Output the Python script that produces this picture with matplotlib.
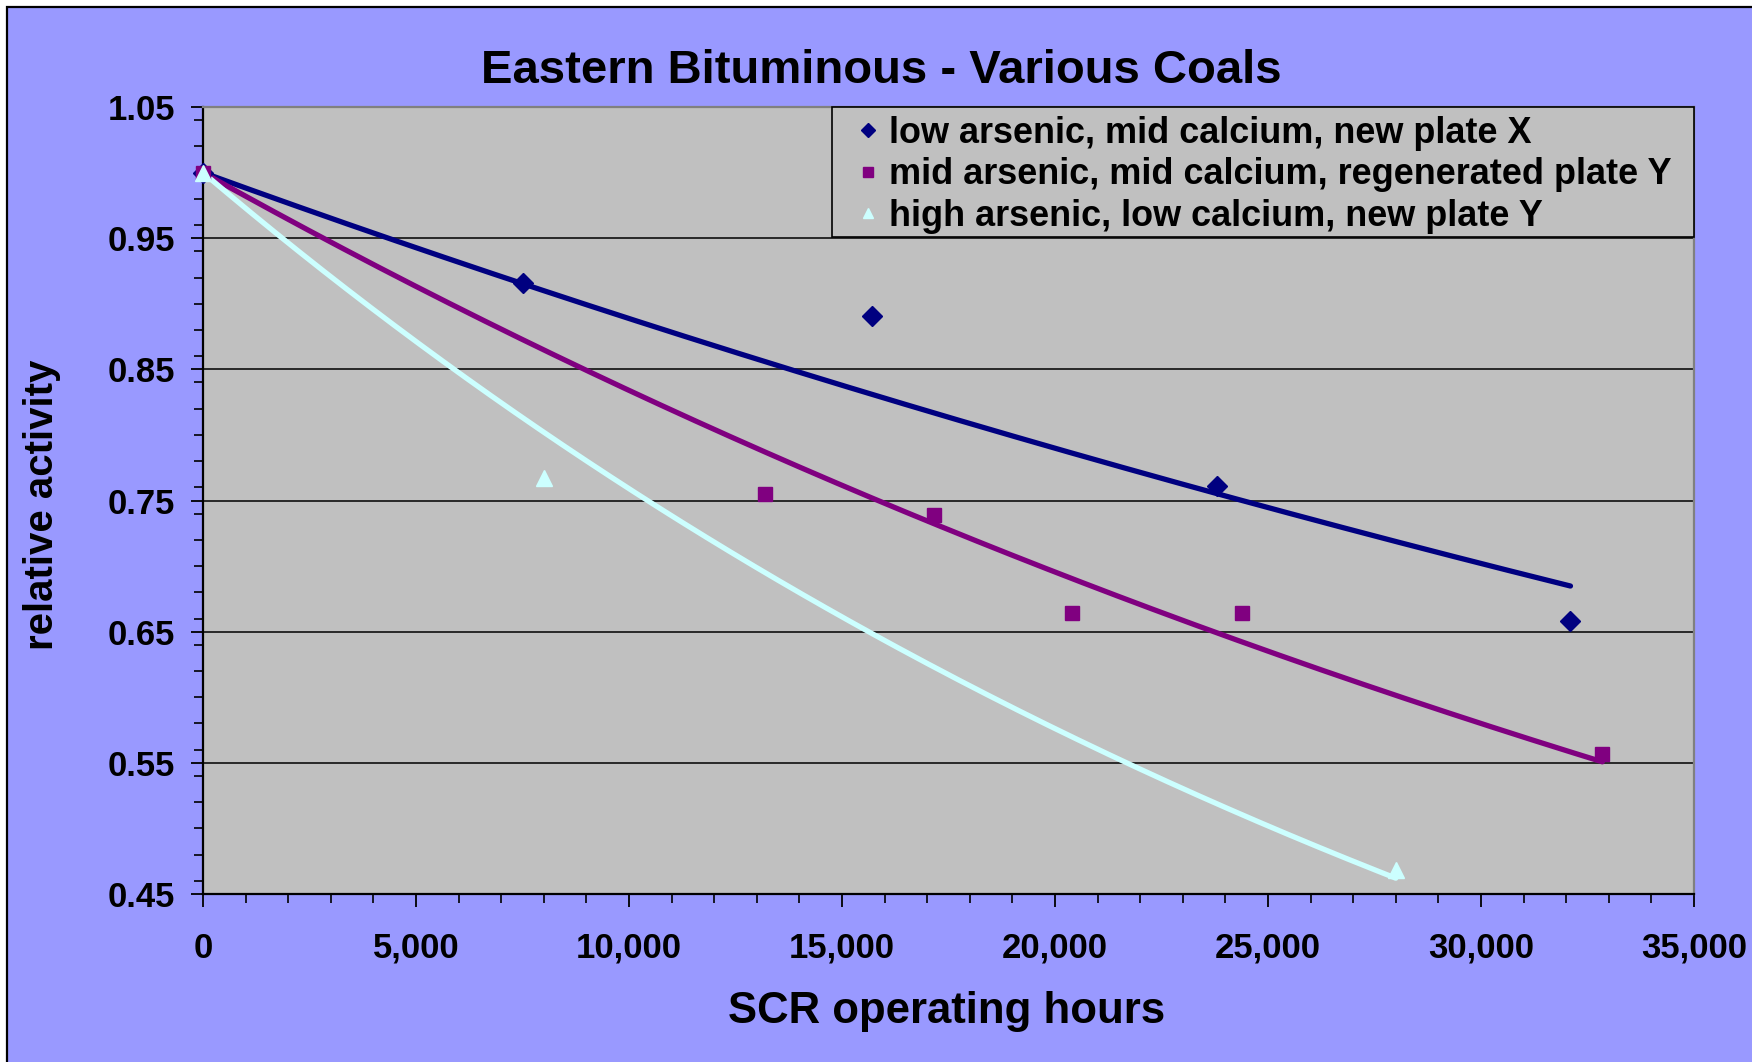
import numpy as np
import matplotlib
matplotlib.use("Agg")
import matplotlib.pyplot as plt
from matplotlib.patches import Rectangle
from matplotlib.ticker import MultipleLocator, FuncFormatter
from matplotlib.transforms import Affine2D

plt.rcParams['font.family'] = ['Liberation Sans', 'DejaVu Sans']
plt.rcParams['font.weight'] = 'bold'

# Catalyst activity measurements (SCR operating hours, relative activity)
labels = [
    "low arsenic, mid calcium, new plate X",
    "mid arsenic, mid calcium, regenerated plate Y",
    "high arsenic, low calcium, new plate Y",
]
hours_x = [0, 7500, 15700, 23800, 32100]
activity_x = [1.0, 0.916, 0.891, 0.761, 0.658]

hours_regen = [0, 13200, 17150, 20400, 24400, 32850]
activity_regen = [1.0, 0.755, 0.739, 0.664, 0.664, 0.557]

hours_y = [0, 8000, 28000]
activity_y = [1.0, 0.767, 0.468]

colors = ["#000080", "#800080", "#CCFFFF"]
markers = ["D", "s", "^"]
msizes = [10.5, 9.5, 11]

BG_BLUE = "#9999FF"
PLOT_GRAY = "#C0C0C0"

W, H = 1752, 1062
fig = plt.figure(figsize=(W / 100, H / 100), dpi=100)
fig.patch.set_facecolor("white")

# pixel coordinates measured from the top-left corner of the canvas
top_px = Affine2D().scale(1, -1).translate(0, H)

fig.patches.append(Rectangle((7 / W, -0.01), 1.02, 1 - 7 / H + 0.01,
                             transform=fig.transFigure, facecolor=BG_BLUE,
                             edgecolor="black", linewidth=1.6, zorder=-10))

ax = fig.add_axes([203 / W, 1 - 894 / H, (1694 - 203) / W, (894 - 107) / H])
ax.set_facecolor(PLOT_GRAY)


def exp_trend(x, y):
    """Exponential trendline y = exp(b*x), intercept fixed at 1."""
    x = np.asarray(x, float)
    ly = np.log(np.asarray(y, float))
    b = np.sum(x * ly) / np.sum(x * x)
    xs = np.linspace(0, x.max(), 200)
    return xs, np.exp(b * xs)


series = [(hours_x, activity_x), (hours_regen, activity_regen), (hours_y, activity_y)]
for (xv, yv), c, m, ms, lab in zip(series, colors, markers, msizes, labels):
    tx, ty = exp_trend(xv, yv)
    ax.plot(tx, ty, color=c, lw=3.8, solid_capstyle="round", zorder=3)
    ax.plot(xv, yv, ls="none", marker=m, ms=ms, color=c, mec=c,
            clip_on=False, zorder=4, label=lab)

ax.set_xlim(0, 35000)
ax.set_ylim(0.45, 1.05)
ax.xaxis.set_major_locator(MultipleLocator(5000))
ax.xaxis.set_minor_locator(MultipleLocator(1000))
ax.yaxis.set_minor_locator(MultipleLocator(0.02))
ax.set_yticks(np.arange(0.45, 1.051, 0.1))
ax.xaxis.set_major_formatter(FuncFormatter(lambda v, p: f"{int(round(v)):,}"))
ax.yaxis.set_major_formatter(FuncFormatter(lambda v, p: f"{v:.2f}"))

ax.tick_params(which="major", direction="out", length=9, width=1.3,
               labelsize=25, colors="black")
ax.tick_params(axis="x", which="major", pad=18)
ax.tick_params(axis="y", which="major", pad=11)
ax.tick_params(which="minor", direction="out", length=6.5, width=1.2, color="black")
for lbl in ax.get_xticklabels() + ax.get_yticklabels():
    lbl.set_fontweight("bold")

ax.grid(axis="y", which="major", color="black", lw=1.1)
ax.set_axisbelow(True)
for side in ("left", "bottom"):
    ax.spines[side].set_color("black")
    ax.spines[side].set_linewidth(1.6)
for side in ("top", "right"):
    ax.spines[side].set_color("#808080")
    ax.spines[side].set_linewidth(1.6)

# legend box: frame drawn as its own rectangle in the plot's upper-right corner
leg_frame = Rectangle((832, 107), 1694 - 832, 237 - 107, transform=top_px,
                      facecolor=PLOT_GRAY, edgecolor="black", lw=1.2, zorder=5)
fig.add_artist(leg_frame)
leg = fig.legend(loc="upper right", bbox_to_anchor=(1672, 116),
                 bbox_transform=top_px, borderaxespad=0, borderpad=0,
                 fontsize=25.9, frameon=False, markerscale=0.7,
                 handlelength=0.6, handletextpad=0.3, labelspacing=0.18)
leg.set_zorder(6)
for t in leg.get_texts():
    t.set_fontweight("bold")

fig.text(881 / W, 1 - 71 / H, "Eastern Bituminous - Various Coals",
         ha="center", va="center", fontsize=34, fontweight="bold")
fig.text(947 / W, 1 - 1012 / H, "SCR operating hours",
         ha="center", va="center", fontsize=31.5, fontweight="bold")
fig.text(42 / W, 1 - 505 / H, "relative activity", rotation=90,
         ha="center", va="center", fontsize=29, fontweight="bold")

fig.savefig("out.png", dpi=100, facecolor=fig.get_facecolor())
